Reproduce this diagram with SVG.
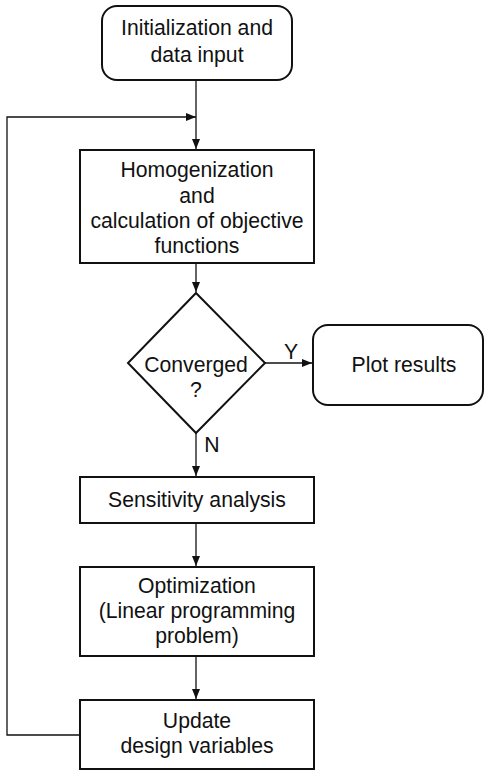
<svg xmlns="http://www.w3.org/2000/svg" width="485" height="771" viewBox="0 0 485 771">
<style>
.box{fill:#fff;stroke:#111;stroke-width:2}
.t{font-family:"Liberation Sans",Arial,sans-serif;font-size:21.2px;fill:#111;text-anchor:middle}
.c{fill:none;stroke:#111;stroke-width:1.3}
</style>
<defs>
<marker id="ah" viewBox="0 0 10 8" refX="10" refY="4" markerWidth="10" markerHeight="8" markerUnits="userSpaceOnUse" orient="auto">
<path d="M0,0 L10,4 L0,8 Z" fill="#111"/>
</marker>
</defs>
<rect width="485" height="771" fill="#fff"/>
<g id="connectors">
<line class="c" x1="196" y1="80" x2="196" y2="149" marker-end="url(#ah)"/>
<polyline class="c" points="80,735 7,735 7,117 196,117" marker-end="url(#ah)"/>
<line class="c" x1="196" y1="263" x2="196" y2="292" marker-end="url(#ah)"/>
<line class="c" x1="265" y1="363" x2="312" y2="363" marker-end="url(#ah)"/>
<line class="c" x1="196" y1="433" x2="196" y2="476" marker-end="url(#ah)"/>
<line class="c" x1="196" y1="523" x2="196" y2="566" marker-end="url(#ah)"/>
<line class="c" x1="196" y1="656" x2="196" y2="699" marker-end="url(#ah)"/>
<text class="t" x="291" y="359">Y</text>
<text class="t" x="212" y="452">N</text>
</g>
<g id="init">
<rect class="box" x="102" y="6" width="190" height="74" rx="15"/>
<text class="t" x="197" y="35">Initialization and</text>
<text class="t" x="197" y="62">data input</text>
</g>
<g id="homog">
<rect class="box" x="80" y="150" width="234" height="113"/>
<text class="t" x="197" y="177">Homogenization</text>
<text class="t" x="197" y="203">and</text>
<text class="t" x="197" y="228">calculation of objective</text>
<text class="t" x="197" y="253">functions</text>
</g>
<g id="converged">
<polygon class="box" points="196,293 265,363 196,433 128,363"/>
<text class="t" x="196" y="372">Converged</text>
<text class="t" x="196" y="397">?</text>
</g>
<g id="plot">
<rect class="box" x="313" y="325" width="170" height="80" rx="15"/>
<text class="t" x="404" y="372">Plot results</text>
</g>
<g id="sens">
<rect class="box" x="80" y="477" width="234" height="46"/>
<text class="t" x="197" y="507">Sensitivity analysis</text>
</g>
<g id="opt">
<rect class="box" x="80" y="567" width="234" height="89"/>
<text class="t" x="197" y="593">Optimization</text>
<text class="t" x="197" y="618">(Linear programming</text>
<text class="t" x="197" y="643">problem)</text>
</g>
<g id="update">
<rect class="box" x="80" y="700" width="234" height="69"/>
<text class="t" x="197" y="728">Update</text>
<text class="t" x="197" y="753">design variables</text>
</g>
</svg>
